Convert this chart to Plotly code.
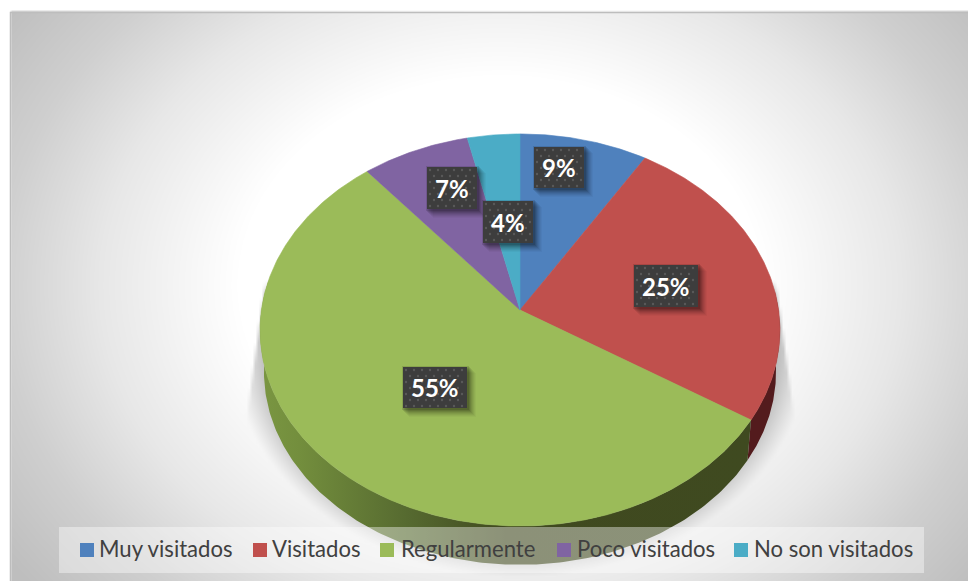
import numpy as np
import plotly.graph_objects as go

# ---- data -------------------------------------------------------------
categories = ["Muy visitados", "Visitados", "Regularmente", "Poco visitados", "No son visitados"]
values = [8.8, 25.2, 55, 7.4, 3.6]
value_labels = ["9%", "25%", "55%", "7%", "4%"]

# ---- styles / layout ---------------------------------------------------
W, H = 968, 581
top_colors = ["#4f81bd", "#c0504d", "#9bbb59", "#8064a2", "#4bacc6"]
wall_colors = ["#2f4d71", "#531b1d", "#3f4a20", "#4c3c61", "#2d6776"]
FONT = "Lato"
CX, CY = 520, 310       # apex of the pie on the page
A, B, K = 258.6, 194.0, 0.102   # projection of the tilted circle
DEPTH, BASE_SCALE = 42, 0.985
label_boxes = [(534, 584, 147, 188), (634, 698, 265, 307), (403, 467, 367, 408),
               (427, 477, 167, 209), (483, 533, 201, 243)]
legend_swatch_x = [80, 253, 380, 557, 734]
legend_text_x = [99, 272, 401, 577, 754]


def project(theta, scale=1.0, dy=0.0):
    w = 1 + K * np.cos(theta)
    return CX + scale * A * np.sin(theta) / w, CY + dy - scale * B * np.cos(theta) / w


# ---- background --------------------------------------------------------
gx = np.arange(0, W + 3, 3.0)
gy = np.arange(0, H + 3, 3.0)
XX, YY = np.meshgrid(gx, gy)
r = np.hypot(XX - 500, (YY - 285) * 1.25)
bg = np.interp(r, [0, 260, 400, 500, 600], [255, 255, 231, 207, 190])
# soft drop shadow below the pie, cut by a slanted edge on either side
rho = np.hypot((XX - CX) / 290.0, (YY - 345) / 232.0)
ramp = np.clip((1.0 - rho) / 0.12, 0, 1) ** 1.1
half_width = 258 + (YY - 290) * 0.135
wedge = np.clip((half_width - np.abs(XX - CX)) / 3.0, 0, 1) * np.clip((YY - 280) / 12.0, 0, 1)
bg = bg * (1 - 0.26 * ramp * wedge)
bg[(XX < 10) | (YY < 12)] = 255

fig = go.Figure()
fig.add_trace(go.Heatmap(x=gx, y=gy, z=np.round(bg, 1), zmin=0, zmax=255, zsmooth="best", showscale=False,
                         colorscale=[[0, "#000000"], [1, "#ffffff"]], hoverinfo="skip"))

# ---- pie geometry from the data ------------------------------------------
fractions = np.array(values, dtype=float) / sum(values)
edges = np.concatenate([[0], np.cumsum(fractions)]) * 2 * np.pi

# side walls (only the front half can be seen)
wall_grad = {
    2: dict(type="horizontal", colorscale=[[0, "#7a9642"], [0.08, "#738e3d"], [0.3, "#566a30"],
                                           [0.5, "#40491f"], [1, "#3f4a20"]]),
}
for i, name in enumerate(categories):
    lo, hi = max(edges[i], np.pi / 2 - 0.1), min(edges[i + 1], 1.55 * np.pi)
    if hi <= lo:
        continue
    t = np.linspace(lo, hi, 200)
    x1, y1 = project(t)
    x2, y2 = project(t[::-1], BASE_SCALE, DEPTH)
    kw = dict(fillgradient=wall_grad[i]) if i in wall_grad else dict(fillcolor=wall_colors[i])
    fig.add_trace(go.Scatter(x=np.r_[x1, x2], y=np.r_[y1, y2], mode="lines", fill="toself",
                             line=dict(width=0), name=name + " (lateral)", hoverinfo="skip",
                             showlegend=False, **kw))

# top faces
for i, name in enumerate(categories):
    t = np.linspace(edges[i], edges[i + 1], max(int(fractions[i] * 720), 12))
    x, y = project(t)
    fig.add_trace(go.Scatter(x=np.r_[CX, x, CX], y=np.r_[CY, y, CY], mode="lines", fill="toself",
                             fillcolor=top_colors[i], line=dict(width=0.6, color=top_colors[i]),
                             name=name, showlegend=False, text=value_labels[i], hoverinfo="name+text"))

# ---- data labels ------------------------------------------------------------
annotations = []
for lab, (x0, x1, y0, y1) in zip(value_labels, label_boxes):
    for off, alpha in [(9, 0.03), (8, 0.04), (7, 0.05), (6, 0.06), (5, 0.07), (4, 0.09), (3, 0.1), (2, 0.12)]:
        fig.add_trace(go.Scatter(x=[x0 + off - 3, x1 + off, x1 + off, x0 + off - 3, x0 + off - 3],
                                 y=[y0 + off - 3, y0 + off - 3, y1 + off, y1 + off, y0 + off - 3],
                                 mode="lines", fill="toself", fillcolor=f"rgba(0,0,0,{alpha})",
                                 line=dict(width=0), hoverinfo="skip", showlegend=False))
    fig.add_trace(go.Scatter(x=[x0, x1, x1, x0, x0], y=[y0, y0, y1, y1, y0], mode="lines", fill="toself",
                             fillcolor="#3d3d3d", line=dict(width=0), hoverinfo="skip", showlegend=False))
    dx, dy = [], []
    for row, yy in enumerate(np.arange(y0 + 3, y1, 6.0)):
        for xx in np.arange(x0 + 3 + (row % 2) * 4, x1 - 1, 8.0):
            dx.append(xx)
            dy.append(yy)
    fig.add_trace(go.Scatter(x=dx, y=dy, mode="markers", marker=dict(size=2.4, color="#5a5a5a"),
                             hoverinfo="skip", showlegend=False))
    annotations.append(dict(x=(x0 + x1) / 2, y=(y0 + y1) / 2, text=f"<b>{lab}</b>", showarrow=False,
                            font=dict(family=FONT, size=24, color="#ffffff"),
                            xanchor="center", yanchor="middle"))

# ---- legend ---------------------------------------------------------------------
fig.add_trace(go.Scatter(x=[59, 924, 924, 59, 59], y=[527, 527, 573, 573, 527], mode="lines", fill="toself",
                         fillcolor="rgba(255,255,255,0.4)", line=dict(width=0), hoverinfo="skip", showlegend=False))
for i, name in enumerate(categories):
    fig.add_trace(go.Scatter(x=[legend_swatch_x[i] + 7], y=[550], mode="markers",
                             marker=dict(symbol="square", size=14, color=top_colors[i]),
                             hoverinfo="skip", showlegend=False))
    annotations.append(dict(x=legend_text_x[i], y=548.5, text=name, showarrow=False,
                            font=dict(family=FONT, size=22.1, color="#404040"),
                            xanchor="left", yanchor="middle", xshift=-2))

# panel border
fig.add_trace(go.Scatter(x=[10.5, 10.5, 968], y=[581, 12.5, 12.5], mode="lines",
                         line=dict(color="#bdbdbd", width=1.5), hoverinfo="skip", showlegend=False))

fig.update_layout(
    width=W, height=H, margin=dict(l=0, r=0, t=0, b=0), paper_bgcolor="#ffffff", plot_bgcolor="#ffffff",
    showlegend=False, annotations=annotations,
    xaxis=dict(range=[0, W], visible=False, fixedrange=True),
    yaxis=dict(range=[H, 0], visible=False, fixedrange=True),
)
fig.write_html("out.html", config={"displayModeBar": False},
               post_script="document.body.style.margin='0';document.documentElement.style.overflow='hidden';")
